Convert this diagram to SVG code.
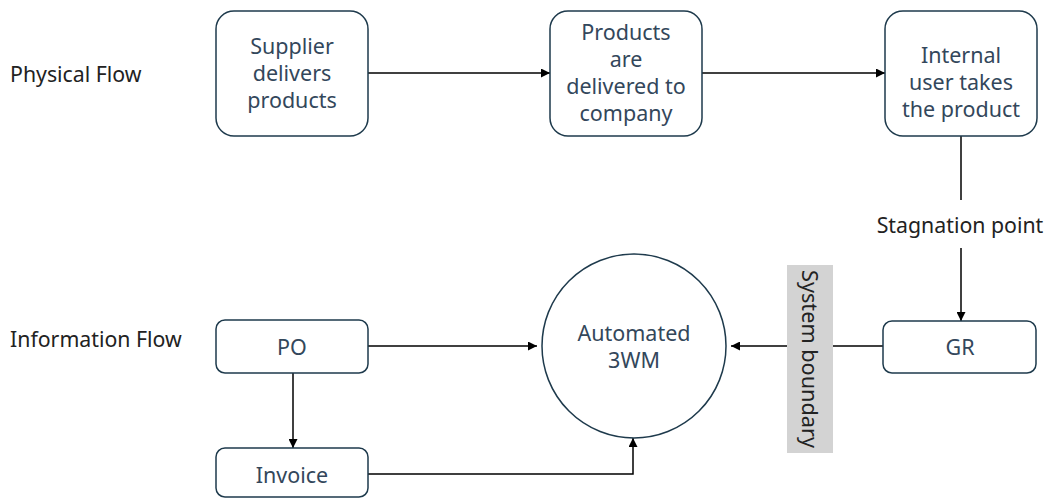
<svg xmlns="http://www.w3.org/2000/svg" width="1049" height="499" viewBox="0 0 1049 499">
  <defs>
    <marker id="arrow" viewBox="0 0 10 10" refX="10" refY="5" markerWidth="9" markerHeight="9" markerUnits="userSpaceOnUse" orient="auto">
      <path d="M0,0 L10,5 L0,10 z" fill="#000"/>
    </marker>
    <style>
      .box { fill: #fff; stroke: #1e3a4c; stroke-width: 1.5; }
      .ntext { font-family: "Noto Sans", "Liberation Sans", sans-serif; font-size: 21.5px; fill: #33475b; text-anchor: middle; }
      .label { font-family: "Noto Sans", "Liberation Sans", sans-serif; font-size: 21.3px; fill: #222; }
      .conn { stroke: #000; stroke-width: 1.5; fill: none; }
    </style>
  </defs>
  <rect width="1049" height="499" fill="#fff"/>

  <!-- row labels -->
  <text class="label" x="10" y="82">Physical Flow</text>
  <text class="label" x="10" y="347">Information Flow</text>

  <!-- connectors -->
  <g id="connectors">
    <line class="conn" x1="368" y1="73" x2="550" y2="73" marker-end="url(#arrow)"/>
    <line class="conn" x1="702" y1="73" x2="885" y2="73" marker-end="url(#arrow)"/>
    <line class="conn" x1="961" y1="136" x2="961" y2="200"/>
    <line class="conn" x1="961" y1="248" x2="961" y2="321" marker-end="url(#arrow)"/>
    <line class="conn" x1="883" y1="346" x2="833" y2="346"/>
    <line class="conn" x1="787" y1="346" x2="731" y2="346" marker-end="url(#arrow)"/>
    <line class="conn" x1="368" y1="346" x2="537" y2="346" marker-end="url(#arrow)"/>
    <line class="conn" x1="293" y1="373" x2="293" y2="448" marker-end="url(#arrow)"/>
    <polyline class="conn" points="368,474 633,474 633,438" marker-end="url(#arrow)"/>
  </g>

  <!-- stagnation label -->
  <text class="label" x="960" y="233" text-anchor="middle">Stagnation point</text>

  <!-- system boundary -->
  <g id="system-boundary">
    <rect x="787" y="265" width="46" height="188" fill="#d3d3d3"/>
    <text class="label" transform="translate(802,359) rotate(90)" text-anchor="middle" fill="#333" font-size="22px" textLength="178" lengthAdjust="spacingAndGlyphs">System boundary</text>
  </g>

  <g id="supplier">
    <rect class="box" x="216" y="11" width="152" height="125" rx="18"/>
    <text class="ntext" x="292" y="54">Supplier</text>
    <text class="ntext" x="292" y="81">delivers</text>
    <text class="ntext" x="292" y="108">products</text>
  </g>

  <g id="delivered">
    <rect class="box" x="550" y="11" width="152" height="125" rx="18"/>
    <text class="ntext" x="626" y="40">Products</text>
    <text class="ntext" x="626" y="67">are</text>
    <text class="ntext" x="626" y="94">delivered to</text>
    <text class="ntext" x="626" y="121">company</text>
  </g>

  <g id="internal-user">
    <rect class="box" x="885" y="11" width="152" height="125" rx="18"/>
    <text class="ntext" x="961" y="63">Internal</text>
    <text class="ntext" x="961" y="90">user takes</text>
    <text class="ntext" x="961" y="117">the product</text>
  </g>

  <g id="gr">
    <rect class="box" x="883" y="321" width="153" height="52" rx="9"/>
    <text class="ntext" x="960" y="355">GR</text>
  </g>

  <g id="po">
    <rect class="box" x="216" y="320" width="152" height="53" rx="9"/>
    <text class="ntext" x="292" y="355">PO</text>
  </g>

  <g id="invoice">
    <rect class="box" x="216" y="448" width="152" height="49" rx="9"/>
    <text class="ntext" x="292" y="483">Invoice</text>
  </g>

  <g id="automated-3wm">
    <circle class="box" cx="634" cy="346" r="92"/>
    <text class="ntext" x="634" y="341">Automated</text>
    <text class="ntext" x="634" y="368">3WM</text>
  </g>
</svg>
